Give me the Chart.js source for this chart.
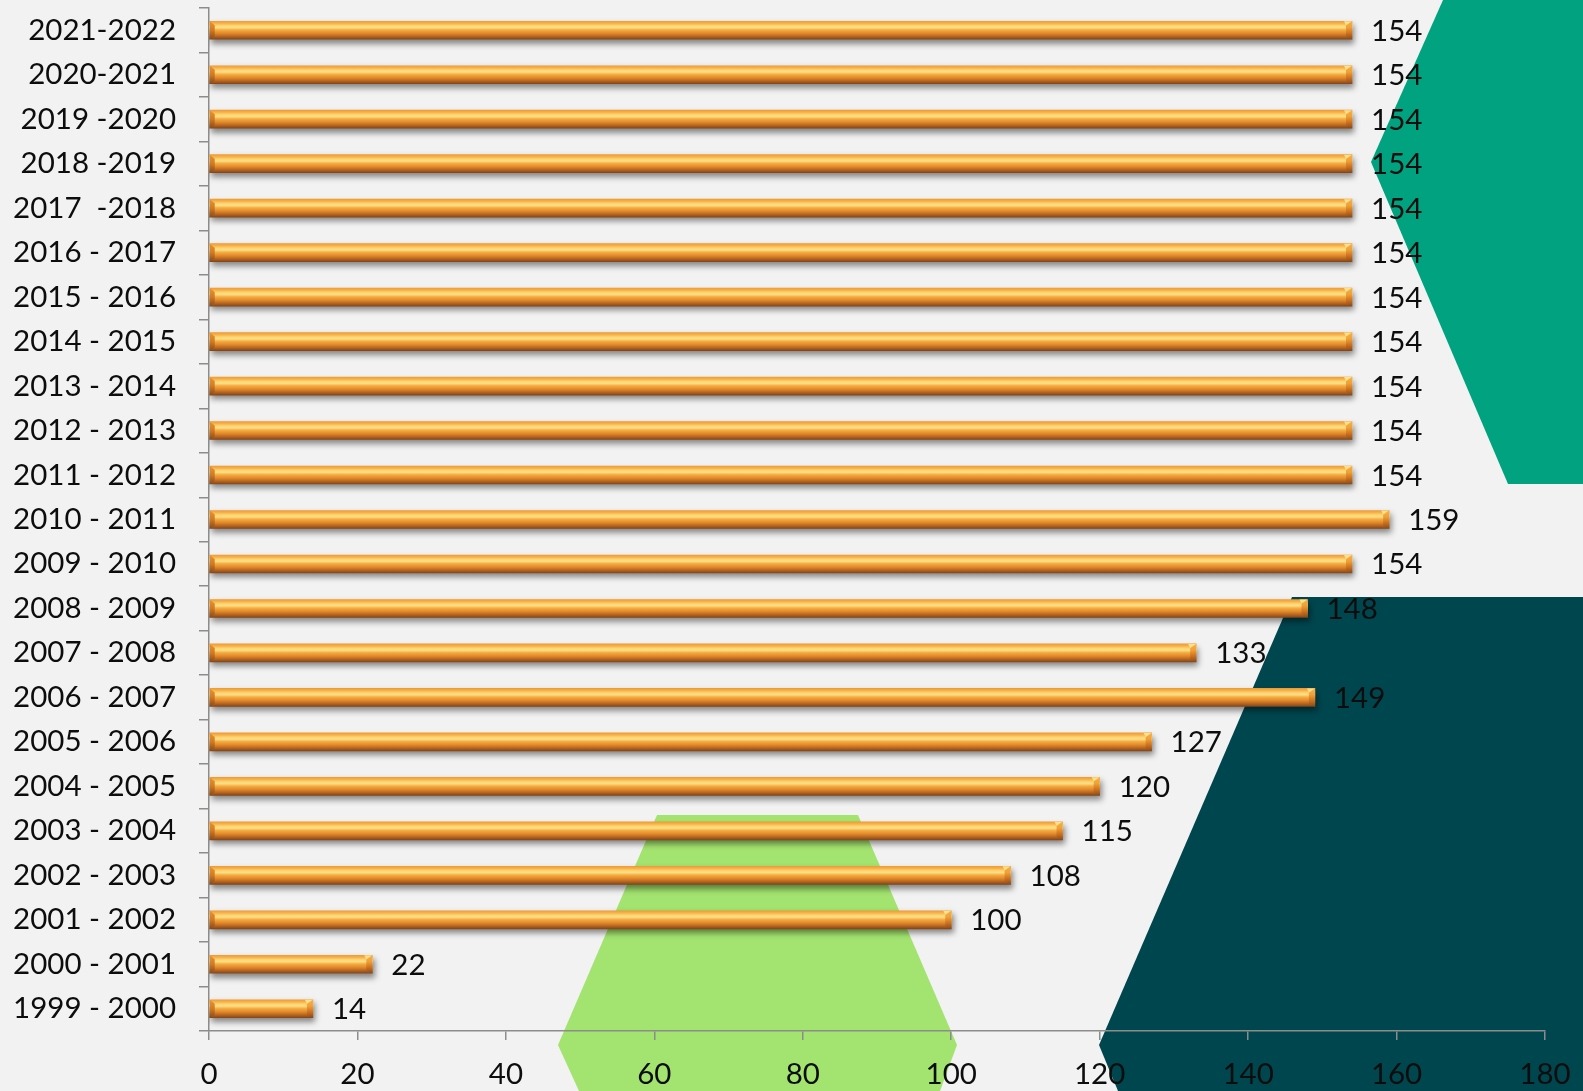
<!DOCTYPE html>
<html>
<head>
<meta charset="utf-8">
<script src="https://cdn.jsdelivr.net/npm/chart.js@4.4.1/dist/chart.umd.min.js"></script>
<style>
  html, body { margin:0; padding:0; background:#f2f2f2; }
  #wrap { width:1583px; height:1091px; }
</style>
</head>
<body>
<div id="wrap"><canvas id="barChart" width="1583" height="1091"></canvas></div>
<script>
// data, top row first
const years = ['2021-2022','2020-2021','2019 -2020','2018 -2019','2017  -2018','2016 - 2017','2015 - 2016',
  '2014 - 2015','2013 - 2014','2012 - 2013','2011 - 2012','2010 - 2011','2009 - 2010','2008 - 2009',
  '2007 - 2008','2006 - 2007','2005 - 2006','2004 - 2005','2003 - 2004','2002 - 2003','2001 - 2002',
  '2000 - 2001','1999 - 2000'];
const counts = [154,154,154,154,154,154,154,154,154,154,154,159,154,148,133,149,127,120,115,108,100,22,14];
const xTicks = [0,20,40,60,80,100,120,140,160,180];

const FONT = 'Lato, "Open Sans", sans-serif';
const FSIZE = 29.5;
const BAR_H = 18;

// background shapes behind the plot
const backdrop = {
  id:'backdrop',
  beforeDraw(chart) {
    const c = chart.ctx;
    c.save();
    c.fillStyle = '#f2f2f2';
    c.fillRect(0, 0, chart.width, chart.height);
    const poly = (pts, col) => {
      c.beginPath();
      pts.forEach((p, i) => i ? c.lineTo(p[0], p[1]) : c.moveTo(p[0], p[1]));
      c.closePath();
      c.fillStyle = col;
      c.fill();
    };
    poly([[1443,0],[1583,0],[1583,484],[1508,484],[1371,162]], '#00a27f');
    poly([[1292,597],[1583,597],[1583,1091],[1118,1091],[1099,1045]], '#00464f');
    poly([[657,815],[858,815],[957,1045],[940,1091],[579,1091],[558,1045]], '#a3e36f');
    c.restore();
  }
};

function vGrad(c, top, bot, stops) {
  const g = c.createLinearGradient(0, top, 0, bot);
  stops.forEach(s => g.addColorStop(s[0], s[1]));
  return g;
}

// soft shadow under bars, then bevelled ends and value labels
const barDeco = {
  id:'barDeco',
  beforeDatasetsDraw(chart) {
    const c = chart.ctx;
    c.save();
    c.shadowColor = 'rgba(0,0,0,0.45)';
    c.shadowBlur = 6;
    c.shadowOffsetX = 2;
    c.shadowOffsetY = 4;
  },
  afterDatasetsDraw(chart) {
    const c = chart.ctx;
    c.restore();
    c.save();
    const meta = chart.getDatasetMeta(0);
    meta.data.forEach((bar, i) => {
      const top = bar.y - BAR_H / 2, bot = bar.y + BAR_H / 2;
      const capStops = [[0,'#f6b04a'],[0.35,'#f0a035'],[0.7,'#c86e1f'],[1,'#8a4a17']];
      // right end
      c.fillStyle = vGrad(c, top, bot, capStops);
      c.beginPath();
      c.moveTo(bar.x - 6, top + 4);
      c.lineTo(bar.x, top);
      c.lineTo(bar.x, bot);
      c.lineTo(bar.x - 6, bot - 3);
      c.closePath();
      c.fill();
      c.fillStyle = '#fde08a';
      c.beginPath();
      c.moveTo(bar.x - 6, top + 4);
      c.lineTo(bar.x, top);
      c.lineTo(bar.x - 8, top);
      c.closePath();
      c.fill();
      // left end
      c.fillStyle = vGrad(c, top, bot, [[0,'#e8952f'],[0.5,'#d07a24'],[1,'#8a4a17']]);
      c.beginPath();
      c.moveTo(bar.base, top);
      c.lineTo(bar.base + 5, top + 4);
      c.lineTo(bar.base + 5, bot - 3);
      c.lineTo(bar.base, bot);
      c.closePath();
      c.fill();
      // value label
      c.fillStyle = '#0d0d0d';
      c.font = FSIZE + 'px ' + FONT;
      c.textAlign = 'left';
      c.textBaseline = 'middle';
      c.fillText(String(counts[i]), bar.x + 19, bar.y + 1);
    });
    c.restore();
  }
};

function barFill(ctx) {
  const chart = ctx.chart;
  const ys = chart.scales && chart.scales.y;
  if (!ys || ctx.type !== 'data') return '#f0a030';
  const cy = ys.getPixelForValue(ctx.dataIndex);
  if (!isFinite(cy)) return '#f0a030';
  return vGrad(chart.ctx, cy - BAR_H / 2, cy + BAR_H / 2, [
    [0, '#f09c36'], [0.12, '#f7b24a'], [0.25, '#ffd672'], [0.35, '#ffdf86'],
    [0.48, '#f5ad42'], [0.66, '#e38b2b'], [0.83, '#bb6820'], [1, '#84461a']
  ]);
}

new Chart(document.getElementById('barChart'), {
  type:'bar',
  data:{
    labels:years,
    datasets:[{ data:counts, backgroundColor:barFill, borderWidth:0, barThickness:BAR_H }]
  },
  options:{
    indexAxis:'y',
    responsive:false,
    animation:false,
    layout:{ padding:{ top:8, right:38, bottom:0, left:0 } },
    plugins:{ legend:{ display:false }, tooltip:{ enabled:false } },
    scales:{
      x:{
        min:0, max:180,
        afterBuildTicks(s) { s.ticks = xTicks.map(v => ({ value:v })); },
        afterFit(s) { s.height = 60; s.paddingLeft = 0; s.paddingRight = 0; },
        border:{ color:'#8c8c8c', width:1.5 },
        grid:{ drawOnChartArea:false, color:'#8c8c8c', tickLength:9, lineWidth:1.5 },
        ticks:{ color:'#0d0d0d', font:{ family:FONT, size:FSIZE }, padding:17, maxRotation:0 }
      },
      y:{
        afterFit(s) { s.width = 209; s.paddingTop = 0; s.paddingBottom = 0; },
        border:{ color:'#8c8c8c', width:1.5 },
        grid:{ offset:true, drawOnChartArea:false, color:'#8c8c8c', tickLength:10, lineWidth:1.5 },
        ticks:{ color:'#0d0d0d', font:{ family:FONT, size:FSIZE }, padding:23, autoSkip:false }
      }
    }
  },
  plugins:[backdrop, barDeco]
});
</script>
</body>
</html>
